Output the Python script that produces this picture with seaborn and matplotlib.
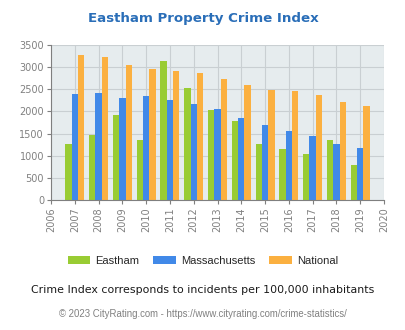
import matplotlib
matplotlib.use("Agg")
import matplotlib.pyplot as plt
import seaborn as sns
import pandas as pd
from matplotlib.patches import Patch

years = [2007, 2008, 2009, 2010, 2011, 2012, 2013, 2014, 2015, 2016, 2017, 2018, 2019]
eastham = [1269, 1472, 1923, 1359, 3139, 2531, 2035, 1788, 1269, 1157, 1044, 1359, 796]
massachusetts = [2396, 2418, 2306, 2351, 2261, 2171, 2058, 1855, 1697, 1562, 1450, 1269, 1180]
national = [3275, 3230, 3049, 2959, 2914, 2869, 2734, 2599, 2486, 2464, 2373, 2216, 2126]
series_names = ["Eastham", "Massachusetts", "National"]
colors = ["#99cc33", "#4189e8", "#fbb040"]
xticks = list(range(2006, 2021))
yticks = [0, 500, 1000, 1500, 2000, 2500, 3000, 3500]

df = pd.DataFrame({
    "year": years * 3,
    "value": eastham + massachusetts + national,
    "series": [series_names[0]] * len(years) + [series_names[1]] * len(years) + [series_names[2]] * len(years),
})

sns.set_theme(style="white")
plt.rcParams['font.family'] = ['DejaVu Sans']

fig = plt.figure(figsize=(4.06, 3.30), dpi=100)
ax = fig.add_axes([51/406, 1 - 200/330, (384 - 51)/406, (200 - 45)/330])
ax.set_facecolor("#e6ecee")

sns.barplot(data=df, x="year", y="value", hue="series", hue_order=series_names,
            palette=colors, native_scale=True, width=0.8, saturation=1,
            linewidth=0, ax=ax, legend=False)

ax.set_xlim(2006, 2020)
ax.set_ylim(0, 3500)
ax.set_xticks(xticks)
ax.set_xticklabels([str(x) for x in xticks], rotation=90, color="#808080", fontsize=7)
ax.set_yticks(yticks)
ax.set_yticklabels([str(y) for y in yticks], color="#808080", fontsize=7)
ax.set_xlabel("")
ax.set_ylabel("")
ax.grid(True, color="#c9cfd2", linewidth=0.8)
ax.set_axisbelow(True)
for s in ["top", "right"]:
    ax.spines[s].set_visible(False)
for s in ["left", "bottom"]:
    ax.spines[s].set_color("#7f7f7f")
    ax.spines[s].set_linewidth(0.8)
ax.tick_params(axis="both", length=3, width=0.8, color="#7f7f7f", pad=2, bottom=True, left=True)

fig.text(0.5, 1 - 18.5/330, "Eastham Property Crime Index", ha="center", va="center",
         fontsize=9.6, fontweight="bold", color="#2a6eb8")

handles = [Patch(facecolor=c, edgecolor="none") for c in colors]
fig.legend(handles, series_names, loc="center", bbox_to_anchor=(0.5, 1 - 261/330),
           ncol=3, frameon=False, prop={"family": "Liberation Sans", "size": 8},
           handlelength=2.0, handleheight=0.7, columnspacing=1.25, handletextpad=0.5)

fig.text(0.5, 1 - 290/330, "Crime Index corresponds to incidents per 100,000 inhabitants",
         ha="center", va="center", fontsize=7.95, color="#1a1a1a")
fig.text(0.5, 1 - 314/330, "© 2023 CityRating.com - https://www.cityrating.com/crime-statistics/",
         ha="center", va="center", fontsize=6.95, color="#808080", family="Liberation Sans")

fig.savefig("out.png", dpi=100)
